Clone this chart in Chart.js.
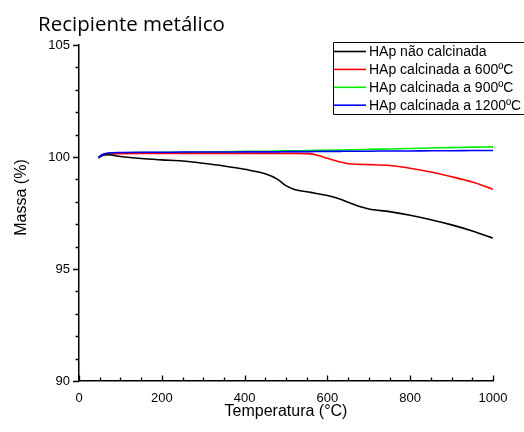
<!DOCTYPE html>
<html>
<head>
<meta charset="utf-8">
<script src="https://cdn.jsdelivr.net/npm/chart.js@4"></script>
<style>
  html, body { margin: 0; padding: 0; background: #fff; overflow: hidden; }
  canvas { display: block; }
</style>
</head>
<body>
<canvas id="tga" width="524" height="432"></canvas>
<script>
// Temperaturas (°C) e massa (%)
const temperaturas = [47, 55, 70, 100, 150, 200, 250, 300, 350, 400, 450, 480, 500, 520, 560, 580, 600, 630, 650, 680, 700, 750, 800, 850, 900, 950, 1000];
const naoCalcinada = [99.98, 100.06, 100.1, 100.02, 99.93, 99.87, 99.82, 99.72, 99.6, 99.45, 99.25, 99.0, 98.72, 98.55, 98.42, 98.35, 98.28, 98.12, 97.98, 97.78, 97.68, 97.56, 97.4, 97.2, 96.97, 96.7, 96.38];
const calc600 = [99.97, 100.08, 100.13, 100.15, 100.16, 100.16, 100.16, 100.16, 100.16, 100.16, 100.16, 100.16, 100.16, 100.16, 100.14, 100.06, 99.94, 99.78, 99.7, 99.67, 99.66, 99.62, 99.5, 99.33, 99.12, 98.88, 98.56];
const calc900 = [99.97, 100.08, 100.15, 100.19, 100.2, 100.2, 100.21, 100.22, 100.23, 100.25, 100.26, 100.27, 100.28, 100.28, 100.29, 100.3, 100.3, 100.31, 100.32, 100.33, 100.34, 100.36, 100.38, 100.4, 100.42, 100.44, 100.45];
const calc1200 = [99.95, 100.1, 100.18, 100.2, 100.21, 100.21, 100.22, 100.22, 100.22, 100.23, 100.23, 100.23, 100.24, 100.24, 100.24, 100.25, 100.25, 100.25, 100.26, 100.26, 100.26, 100.27, 100.27, 100.28, 100.28, 100.29, 100.29];

const rotulos = ['HAp não calcinada', 'HAp calcinada a 600ºC', 'HAp calcinada a 900ºC', 'HAp calcinada a 1200ºC'];
const cores = ['#000000', '#ff0000', '#00ee00', '#0000ff'];
const xTicks = [0, 200, 400, 600, 800, 1000];
const yTicks = [90, 95, 100, 105];

const FONTE = '"Liberation Sans", Arial, sans-serif';

function serie(valores, i) {
    return {
        label: rotulos[i],
        data: temperaturas.map((t, k) => ({ x: t, y: valores[k] })),
        borderColor: cores[i],
        backgroundColor: cores[i],
        borderWidth: 1.6,
        pointRadius: 0,
        cubicInterpolationMode: 'monotone',
        fill: false,
        order: i === 3 ? 0 : i + 1
    };
}

// Marcas dos eixos, títulos e legenda em caixa
const extras = {
    id: 'extras',
    afterDraw(chart) {
        const ctx = chart.ctx;
        const xs = chart.scales.x, ys = chart.scales.y;
        const area = chart.chartArea;
        ctx.save();
        ctx.strokeStyle = '#000';
        ctx.lineWidth = 1.3;
        ctx.beginPath();
        for (let v = 90; v <= 105; v++) {
            const py = Math.round(ys.getPixelForValue(v)) + 0.5;
            const len = v % 5 === 0 ? 6 : 3.5;
            ctx.moveTo(area.left - len, py);
            ctx.lineTo(area.left, py);
        }
        for (let v = 0; v <= 1000; v += 50) {
            const px = Math.round(xs.getPixelForValue(v)) + 0.5;
            const len = v % 200 === 0 ? 5.5 : 3.5;
            ctx.moveTo(px, area.bottom);
            ctx.lineTo(px, area.bottom - len);
        }
        ctx.stroke();

        // título
        ctx.fillStyle = '#000';
        ctx.font = '20.5px "Open Sans", "Noto Sans", sans-serif';
        ctx.textAlign = 'left';
        ctx.textBaseline = 'alphabetic';
        ctx.fillText('Recipiente metálico', 38, 31);

        // títulos dos eixos
        ctx.font = '16px ' + FONTE;
        ctx.textAlign = 'center';
        ctx.fillText('Temperatura (°C)', 286, 416);
        ctx.save();
        ctx.translate(26, 197.5);
        ctx.rotate(-Math.PI / 2);
        ctx.fillText('Massa (%)', 0, 0);
        ctx.restore();

        // legenda (a caixa continua além da borda direita)
        ctx.lineWidth = 1;
        ctx.strokeStyle = '#000';
        ctx.beginPath();
        ctx.moveTo(560, 42.5);
        ctx.lineTo(333.5, 42.5);
        ctx.lineTo(333.5, 114.5);
        ctx.lineTo(560, 114.5);
        ctx.stroke();
        ctx.font = '14px ' + FONTE;
        ctx.textAlign = 'left';
        ctx.textBaseline = 'middle';
        chart.data.datasets.forEach((ds, i) => {
            const y = 51.5 + i * 17.9;
            ctx.strokeStyle = ds.borderColor;
            ctx.lineWidth = 1.6;
            ctx.beginPath();
            ctx.moveTo(334, y);
            ctx.lineTo(366, y);
            ctx.stroke();
            ctx.fillStyle = '#000';
            ctx.fillText(ds.label, 369, y + 0.5);
        });
        ctx.restore();
    }
};

new Chart(document.getElementById('tga'), {
    type: 'line',
    data: {
        datasets: [serie(naoCalcinada, 0), serie(calc600, 1), serie(calc900, 2), serie(calc1200, 3)]
    },
    options: {
        responsive: false,
        animation: false,
        devicePixelRatio: 1,
        layout: { padding: { top: 45, right: 31, left: 0, bottom: 0 } },
        plugins: {
            legend: { display: false },
            title: { display: false },
            tooltip: { enabled: false }
        },
        scales: {
            x: {
                type: 'linear',
                min: 0,
                max: 1000,
                afterBuildTicks: s => { s.ticks = xTicks.map(v => ({ value: v })); },
                afterFit: s => { s.height = 51; },
                grid: { display: false, drawTicks: false },
                border: { display: true, color: '#000', width: 1.5 },
                ticks: { padding: 10, color: '#000', font: { family: FONTE, size: 13 }, maxRotation: 0, autoSkip: false, callback: v => String(v) }
            },
            y: {
                type: 'linear',
                min: 90,
                max: 105,
                afterBuildTicks: s => { s.ticks = yTicks.map(v => ({ value: v })); },
                afterFit: s => { s.width = 79; },
                grid: { display: false, drawTicks: false },
                border: { display: true, color: '#000', width: 1.5 },
                ticks: { padding: 9, color: '#000', font: { family: FONTE, size: 13 }, autoSkip: false, callback: v => String(v) }
            }
        }
    },
    plugins: [extras]
});
</script>
</body>
</html>
